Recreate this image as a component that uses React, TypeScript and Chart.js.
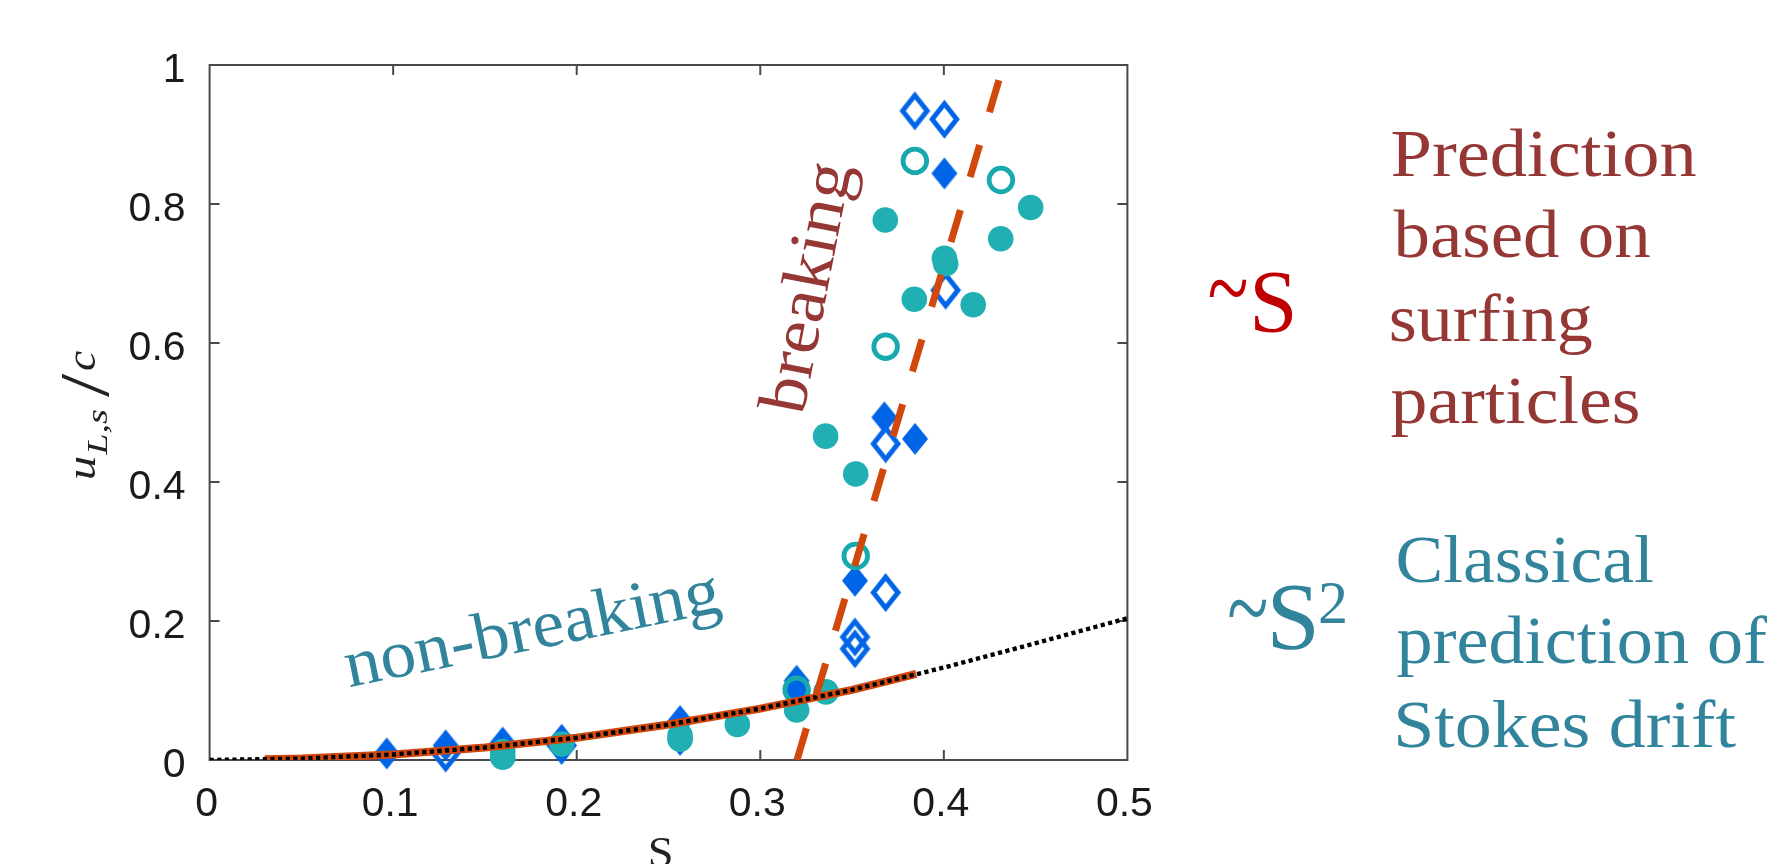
import React, { useEffect, useRef } from 'react';
import { Chart, registerables } from 'chart.js';

Chart.register(...registerables);

const W = 1771;
const H = 864;

// ---- axes ----
const xTickValues = [0, 0.1, 0.2, 0.3, 0.4, 0.5];
const xTickLabels = ['0', '0.1', '0.2', '0.3', '0.4', '0.5'];
const yTickValues = [0, 0.2, 0.4, 0.6, 0.8, 1];
const yTickLabels = ['0', '0.2', '0.4', '0.6', '0.8', '1'];

// ---- measured points (S, u_{L,s}/c) ----
const filledDiamondS = [0.0965, 0.1286, 0.1597, 0.1918, 0.2563, 0.2563, 0.3198, 0.3198, 0.3516, 0.3676, 0.3843, 0.4003];
const filledDiamondU = [0.0094, 0.021, 0.025, 0.029, 0.056, 0.029, 0.114, 0.100, 0.258, 0.493, 0.462, 0.844];

const openDiamondS = [0.1286, 0.1918, 0.3516, 0.3516, 0.3683, 0.3683, 0.401, 0.3842, 0.4003];
const openDiamondU = [0.010, 0.021, 0.177, 0.160, 0.241, 0.455, 0.676, 0.934, 0.922];

const filledCircleS = [0.1597, 0.1597, 0.1918, 0.2563, 0.2563, 0.2875, 0.3198, 0.3358, 0.3356, 0.352, 0.3681, 0.3839, 0.4003, 0.401, 0.416, 0.431, 0.4473];
const filledCircleU = [0.004, 0.012, 0.023, 0.035, 0.030, 0.051, 0.072, 0.098, 0.466, 0.4115, 0.777, 0.663, 0.722, 0.714, 0.655, 0.750, 0.795];

const openCircleS = [0.3198, 0.352, 0.3683, 0.3842, 0.4311];
const openCircleU = [0.101, 0.2935, 0.5947, 0.862, 0.8345];

// classical Stokes drift curve (dotted)
const stokesS = [0, 0.05, 0.1, 0.15, 0.2, 0.25, 0.3, 0.35, 0.4, 0.45, 0.5];
const stokesU = [0, 0.002, 0.008, 0.018, 0.032, 0.051, 0.074, 0.101, 0.133, 0.168, 0.204];

// non-breaking fit (solid orange)
const nonBreakS = [0.03, 0.05, 0.1, 0.15, 0.2, 0.25, 0.3, 0.35, 0.385];
const nonBreakU = [0.001, 0.002, 0.008, 0.018, 0.032, 0.051, 0.074, 0.101, 0.124];

// breaking fit (dashed orange)
const breakS = [0.430, 0.320];
const breakU = [0.978, 0];

const pts = (xs: number[], ys: number[]) => xs.map((x, i) => ({ x, y: ys[i] }));

// ---- colours ----
const BLUE = '#0064e6';
const TEAL = '#20b0b4';
const TEAL_RING = '#18a9ae';
const ORANGE = '#d2470c';
const DARKRED = '#953735';
const RED = '#c00000';
const TEXT_TEAL = '#31849b';

function makeDiamond(w: number, h: number, color: string, filled: boolean, lw: number) {
  const c = document.createElement('canvas');
  const pad = filled ? 1 : Math.ceil(lw) + 3;
  c.width = Math.round(w + 2 * pad);
  c.height = Math.round(h + 2 * pad);
  const g = c.getContext('2d')!;
  const cx = c.width / 2;
  const cy = c.height / 2;
  g.beginPath();
  g.moveTo(cx, cy - h / 2);
  g.lineTo(cx + w / 2, cy);
  g.lineTo(cx, cy + h / 2);
  g.lineTo(cx - w / 2, cy);
  g.closePath();
  if (filled) {
    g.fillStyle = color;
    g.fill();
  } else {
    g.strokeStyle = color;
    g.lineWidth = lw;
    g.lineJoin = 'miter';
    g.stroke();
  }
  return c;
}

type Ctx = CanvasRenderingContext2D;

function fitBaseline(ctx: Ctx, text: string, font: string, color: string, x: number, y: number, inkWidth: number, angleDeg = 0) {
  ctx.save();
  ctx.font = font;
  ctx.fillStyle = color;
  ctx.textAlign = 'left';
  ctx.textBaseline = 'alphabetic';
  const m = ctx.measureText(text);
  const w = m.actualBoundingBoxLeft + m.actualBoundingBoxRight;
  const sx = inkWidth / w;
  ctx.translate(x, y);
  ctx.rotate((angleDeg * Math.PI) / 180);
  ctx.scale(sx, 1);
  ctx.fillText(text, m.actualBoundingBoxLeft, 0);
  ctx.restore();
}

function fitBox(ctx: Ctx, text: string, font: string, color: string, x0: number, y0: number, x1: number, y1: number) {
  ctx.save();
  ctx.font = font;
  ctx.fillStyle = color;
  ctx.textAlign = 'left';
  ctx.textBaseline = 'alphabetic';
  const m = ctx.measureText(text);
  const w = m.actualBoundingBoxLeft + m.actualBoundingBoxRight;
  const h = m.actualBoundingBoxAscent + m.actualBoundingBoxDescent;
  ctx.translate(x0, y0);
  ctx.scale((x1 - x0) / w, (y1 - y0) / h);
  ctx.fillText(text, m.actualBoundingBoxLeft, m.actualBoundingBoxAscent);
  ctx.restore();
}

const SERIF = '"Liberation Serif", "DejaVu Serif", serif';
const SANS = '"Liberation Sans", Arial, sans-serif';

const framePlugin = {
  id: 'frame',
  beforeDatasetsDraw(chart: any) {
    const { ctx, chartArea: a, scales } = chart;
    const xs = scales.x;
    const ys = scales.y;
    ctx.save();
    ctx.strokeStyle = '#4a4a4a';
    ctx.lineWidth = 2;
    ctx.strokeRect(a.left, a.top, a.right - a.left, a.bottom - a.top);
    ctx.beginPath();
    const TL = 10;
    xTickValues.slice(1, -1).forEach((v) => {
      const px = xs.getPixelForValue(v);
      ctx.moveTo(px, a.bottom);
      ctx.lineTo(px, a.bottom - TL);
      ctx.moveTo(px, a.top);
      ctx.lineTo(px, a.top + TL);
    });
    yTickValues.slice(1, -1).forEach((v) => {
      const py = ys.getPixelForValue(v);
      ctx.moveTo(a.left, py);
      ctx.lineTo(a.left + TL, py);
      ctx.moveTo(a.right, py);
      ctx.lineTo(a.right - TL, py);
    });
    ctx.stroke();
    ctx.restore();
  },
  afterDraw(chart: any) {
    const ctx: Ctx = chart.ctx;
    const F = `68px ${SERIF}`;

    // in-plot labels
    fitBaseline(ctx, 'breaking', F, DARKRED, 803, 416, 253, -79);
    fitBaseline(ctx, 'non-breaking', F, TEXT_TEAL, 350, 687, 380, -11.5);

    // right side: surfing prediction
    fitBox(ctx, '~', `90px ${SERIF}`, RED, 1209.4, 280, 1247, 298.3);
    fitBox(ctx, 'S', `90px ${SERIF}`, RED, 1255, 270, 1292.6, 331.7);
    fitBaseline(ctx, 'Prediction', F, DARKRED, 1391.6, 176, 304);
    fitBaseline(ctx, 'based on', F, DARKRED, 1393.5, 257.3, 256);
    fitBaseline(ctx, 'surfing', F, DARKRED, 1390.8, 340.7, 200.8);
    fitBaseline(ctx, 'particles', F, DARKRED, 1391.6, 422.7, 246.3);

    // right side: classical prediction
    fitBox(ctx, '~', `90px ${SERIF}`, TEXT_TEAL, 1229, 600, 1267, 618.3);
    fitBox(ctx, 'S', `90px ${SERIF}`, TEXT_TEAL, 1272.8, 585, 1314.4, 650);
    fitBox(ctx, '2', `60px ${SERIF}`, TEXT_TEAL, 1320, 583, 1345, 623);
    fitBaseline(ctx, 'Classical', F, TEXT_TEAL, 1397.5, 581.7, 255.4);
    fitBaseline(ctx, 'prediction of', F, TEXT_TEAL, 1397.5, 663.3, 370);
    fitBaseline(ctx, 'Stokes drift', F, TEXT_TEAL, 1397.5, 747.3, 338.6);

    // axis titles
    const AX = '#222222';
    fitBox(ctx, 'S', `42px ${SERIF}`, AX, 650, 837, 671, 867);

    ctx.save();
    ctx.translate(95, 478);
    ctx.rotate(-Math.PI / 2);
    fitBox(ctx, 'u', `italic 42px ${SERIF}`, AX, 0, -18.3, 21, 0.3);
    fitBaseline(ctx, 'L,s', `italic 30px ${SERIF}`, AX, 22, 11.7, 46);
    fitBox(ctx, '/', `42px ${SERIF}`, AX, 81, -33.3, 105, 13);
    fitBox(ctx, 'c', `italic 42px ${SERIF}`, AX, 108, -19, 127.5, 0.4);
    ctx.restore();
  },
};

export default function App() {
  const ref = useRef<HTMLCanvasElement | null>(null);

  useEffect(() => {
    const canvas = ref.current;
    if (!canvas) return;

    const filledDiamond = makeDiamond(26, 32, BLUE, true, 0);
    const openDiamond = makeDiamond(24.5, 31, BLUE, false, 5);

    const chart = new Chart(canvas, {
      type: 'scatter',
      data: {
        datasets: [
          {
            label: 'breaking fit',
            data: pts(breakS, breakU),
            showLine: true,
            borderColor: ORANGE,
            borderWidth: 7,
            borderDash: [33.4, 34.2],
            borderCapStyle: 'butt',
            pointRadius: 0,
            fill: false,
          },
          {
            label: 'Stokes drift',
            data: pts(stokesS, stokesU),
            showLine: true,
            borderColor: '#000000',
            borderWidth: 4.4,
            borderDash: [4.2, 3.4],
            borderCapStyle: 'butt',
            pointRadius: 0,
            fill: false,
          },
          {
            label: 'non-breaking fit',
            data: pts(nonBreakS, nonBreakU),
            showLine: true,
            borderColor: ORANGE,
            borderWidth: 8,
            borderCapStyle: 'butt',
            pointRadius: 0,
            fill: false,
          },
          {
            label: 'open circles',
            data: pts(openCircleS, openCircleU),
            pointStyle: 'circle',
            pointRadius: 11.8,
            pointBorderWidth: 4.8,
            pointBorderColor: TEAL_RING,
            pointBackgroundColor: 'rgba(0,0,0,0)',
            clip: false,
          },
          {
            label: 'filled circles',
            data: pts(filledCircleS, filledCircleU),
            pointStyle: 'circle',
            pointRadius: 12.8,
            pointBorderWidth: 0,
            pointBackgroundColor: TEAL,
            clip: false,
          },
          {
            label: 'open diamonds',
            data: pts(openDiamondS, openDiamondU),
            pointStyle: openDiamond,
            pointRadius: 17,
            clip: false,
          },
          {
            label: 'filled diamonds',
            data: pts(filledDiamondS, filledDiamondU),
            pointStyle: filledDiamond,
            pointRadius: 16,
            clip: false,
          },
        ] as any,
      },
      options: {
        responsive: false,
        animation: false,
        devicePixelRatio: 1,
        events: [],
        layout: { padding: { left: 0, top: 65, right: W - 1127.4, bottom: 0 } },
        plugins: { legend: { display: false }, tooltip: { enabled: false } },
        scales: {
          x: {
            type: 'linear',
            min: 0,
            max: 0.5,
            grid: { display: false, drawTicks: false },
            border: { display: false },
            afterBuildTicks: (s: any) => {
              s.ticks = xTickValues.map((v) => ({ value: v }));
            },
            afterFit: (s: any) => {
              s.height = H - 760;
            },
            ticks: {
              autoSkip: false,
              maxRotation: 0,
              minRotation: 0,
              padding: 20,
              labelOffset: -3,
              color: '#1a1a1a',
              font: { family: SANS, size: 41 },
              callback: (_v: any, i: number) => xTickLabels[i],
            },
          },
          y: {
            type: 'linear',
            min: 0,
            max: 1,
            grid: { display: false, drawTicks: false },
            border: { display: false },
            afterBuildTicks: (s: any) => {
              s.ticks = yTickValues.map((v) => ({ value: v }));
            },
            afterFit: (s: any) => {
              s.width = 209.6;
            },
            ticks: {
              autoSkip: false,
              padding: 24,
              labelOffset: 6,
              color: '#1a1a1a',
              font: { family: SANS, size: 41 },
              callback: (_v: any, i: number) => yTickLabels[i],
            },
          },
        },
      } as any,
      plugins: [framePlugin],
    });

    return () => chart.destroy();
  }, []);

  return (
    <div style={{ position: 'fixed', left: 0, top: 0, width: W, height: H, background: '#ffffff' }}>
      <canvas ref={ref} width={W} height={H} style={{ width: W, height: H, display: 'block' }} />
    </div>
  );
}
